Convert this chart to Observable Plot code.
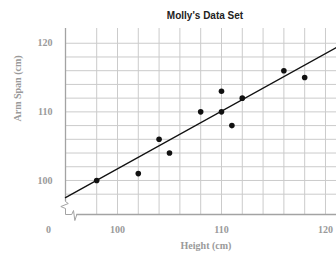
<!DOCTYPE html>
<html>
<head>
<meta charset="utf-8">
<script src="https://cdn.jsdelivr.net/npm/d3@7"></script>
<script src="https://cdn.jsdelivr.net/npm/@observablehq/plot@0.6"></script>
<style>
  html, body { margin: 0; padding: 0; background: #fff; }
</style>
</head>
<body>
<div id="chart"></div>
<script>
// Data
const heights   = [98, 102, 104, 105, 108, 110, 110, 111, 112, 116, 118];
const armSpans  = [100, 101, 106, 104, 110, 113, 110, 108, 112, 116, 115];
// fitted line (endpoints of the drawn line)
const fitX = [95, 121.06];
const fitY = [97.5, 119.4];
// tick labels / grid
const xTickLabels = [100, 110, 120];
const yTickLabels = [100, 110, 120];
const xGrid = [98, 100, 102, 104, 106, 108, 110, 112, 114, 116, 118, 120];
const yGrid = [98, 100, 102, 104, 106, 108, 110, 112, 114, 116, 118, 120];
// axis-break zigzag (data units)
const breakX = [95.0, 95.27, 94.55, 95.0, 95.0, 95.6, 95.77, 95.9, 96.09];
const breakY = [96.93, 96.64, 96.2, 95.91, 95.04, 95.04, 95.62, 94.16, 95.04];

const points = heights.map((h, i) => ({h, a: armSpans[i]}));
const fit = fitX.map((x, i) => ({x, y: fitY[i]}));
const brk = breakX.map((x, i) => ({x, y: breakY[i]}));

const axisGray = "#a3a3a3";
const labelGray = "#9a9a9a";
const serif = "'Liberation Serif', 'DejaVu Serif', serif";
const sans = "'Liberation Sans', Arial, sans-serif";

const chart = Plot.plot({
  width: 336,
  height: 255,
  marginLeft: 65,
  marginRight: 0,
  marginTop: 28,
  marginBottom: 41,
  style: {fontFamily: serif, fontSize: "10px", color: labelGray, background: "#fff"},
  x: {domain: [95, 121.06], axis: null},
  y: {domain: [95.04, 122.15], axis: null},
  marks: [
    Plot.gridX(xGrid, {stroke: "#cbcbcb", strokeOpacity: 1, strokeWidth: 1}),
    Plot.gridY(yGrid, {stroke: "#cbcbcb", strokeOpacity: 1, strokeWidth: 1}),
    Plot.ruleX([95], {y1: 96.93, y2: 122.15, stroke: axisGray, strokeWidth: 1.3}),
    Plot.ruleY([95.04], {x1: 96.09, x2: 121.06, stroke: axisGray, strokeWidth: 1.3}),
    Plot.line(brk, {x: "x", y: "y", stroke: axisGray, strokeWidth: 1, curve: "linear"}),
    Plot.axisX(xTickLabels, {tickSize: 0, tickPadding: 11, label: null, fontWeight: "bold", fill: labelGray, fontSize: 10}),
    Plot.axisY(yTickLabels, {tickSize: 0, tickPadding: 13, label: null, fontWeight: "bold", fill: labelGray, fontSize: 10}),
    Plot.text(["0"], {x: 95, y: 95.04, dx: -17, dy: 15, fontWeight: "bold", fill: labelGray, fontSize: 10}),
    Plot.line(fit, {x: "x", y: "y", stroke: "#111", strokeWidth: 1.3}),
    Plot.dot(points, {x: "h", y: "a", r: 2.8, fill: "#111", stroke: "none"}),
    Plot.text(["Molly's Data Set"], {frameAnchor: "top", dx: 4, dy: -17, fontFamily: sans, fontWeight: "bold", fontSize: 10, fill: "#222"}),
    Plot.text(["Height (cm)"], {frameAnchor: "bottom", dx: 5, dy: 34, fontWeight: "bold", fontSize: 10, fill: labelGray}),
    Plot.text(["Arm Span (cm)"], {frameAnchor: "left", dx: -48, rotate: -90, fontWeight: "bold", fontSize: 10, fill: labelGray})
  ]
});
document.getElementById("chart").appendChild(chart);
</script>
</body>
</html>
